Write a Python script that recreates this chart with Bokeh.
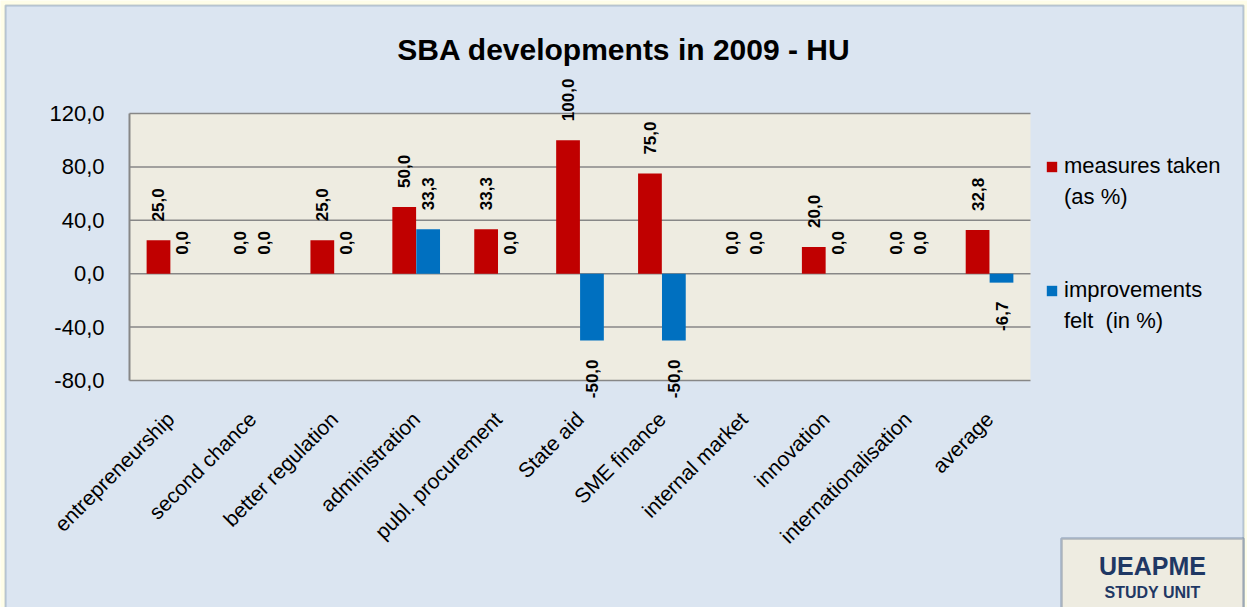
import math
from bokeh.plotting import figure
from bokeh.models import (ColumnDataSource, Range1d, FixedTicker,
                          CustomJSTickFormatter, Legend, LegendItem, Label,
                          LabelSet, BoxAnnotation)
from bokeh.transform import dodge
from bokeh.core.properties import value
from bokeh.embed import file_html
from bokeh.resources import INLINE

# ---------------- data ----------------
categories = ["entrepreneurship", "second chance", "better regulation", "administration",
              "publ. procurement", "State aid", "SME finance", "internal market",
              "innovation", "internationalisation", "average"]
measures_taken = [25.0, 0.0, 25.0, 50.0, 33.3, 100.0, 75.0, 0.0, 20.0, 0.0, 32.8]
improvements_felt = [0.0, 0.0, 0.0, 33.3, 0.0, -50.0, -50.0, 0.0, 0.0, 0.0, -6.7]
y_ticks = [-80, -40, 0, 40, 80, 120]
title_text = "SBA developments in 2009 - HU"
legend_lines = ["measures taken", "(as %)", "improvements", "felt  (in %)"]
badge_lines = ["UEAPME", "STUDY UNIT"]

FONT = "Liberation Sans"
RED = "#C00000"
BLUE = "#0070C0"
NAVY = "#1F3864"
GRID = "#878787"

# ---------------- layout (pixels of the canvas) ----------------
W, H = 1247, 607
PL, PR, PT, PB = 129, 1030, 113, 380     # plot-area box on the canvas
n = len(categories)
ux = (PR - PL) / n
uy = (PB - PT) / (y_ticks[-1] - y_ticks[0])
x_lo = -0.5 - PL / ux
x_hi = n - 0.5 + (W - PR) / ux
y_hi = y_ticks[-1] + PT / uy
y_lo = y_ticks[0] - (H - PB) / uy


def X(px):
    return x_lo + px / ux


def Y(py):
    return y_hi - py / uy


def fmt(v):
    return f"{v:.1f}".replace(".", ",")


p = figure(width=W, height=H, x_range=Range1d(x_lo, x_hi), y_range=Range1d(y_lo, y_hi),
           output_backend="svg", toolbar_location=None, title=None, min_border=0)
p.background_fill_color = "#FEFDE8"
p.border_fill_color = "#FEFDE8"
p.outline_line_color = None
p.grid.visible = False

# chart area and plot area
p.add_layout(BoxAnnotation(left=X(5), right=X(1243), top=Y(5), bottom=Y(640),
                           fill_color="#DBE5F1", fill_alpha=1, line_color="#3B5E8C",
                           line_width=2, level="underlay"))
p.add_layout(BoxAnnotation(left=-0.5, right=n - 0.5, bottom=y_ticks[0], top=y_ticks[-1],
                           fill_color="#EEECE1", fill_alpha=1, line_color=None,
                           level="underlay"))
p.segment(x0=-0.5, x1=n - 0.5, y0=y_ticks, y1=y_ticks, line_color=GRID, line_width=1.5)

# axes
p.yaxis.fixed_location = -0.5
p.yaxis.bounds = (y_ticks[0], y_ticks[-1])
p.yaxis.ticker = FixedTicker(ticks=y_ticks)
p.yaxis.formatter = CustomJSTickFormatter(code="return tick.toFixed(1).replace('.', ',');")
p.yaxis.major_label_text_font = FONT
p.yaxis.major_label_text_font_size = "22px"
p.yaxis.major_label_text_color = "black"
p.yaxis.major_tick_line_color = None
p.yaxis.minor_tick_line_color = None
p.yaxis.major_tick_out = 0
p.yaxis.major_tick_in = 0
p.yaxis.major_label_standoff = 25
p.yaxis.axis_line_color = GRID
p.yaxis.axis_line_width = 2

p.xaxis.fixed_location = y_ticks[0]
p.xaxis.ticker = FixedTicker(ticks=list(range(n)))
p.xaxis.major_label_overrides = {i: c for i, c in enumerate(categories)}
p.xaxis.major_label_orientation = math.pi / 4
p.xaxis.major_label_text_font = FONT
p.xaxis.major_label_text_font_size = "21px"
p.xaxis.major_label_text_color = "black"
p.xaxis.major_tick_line_color = None
p.xaxis.minor_tick_line_color = None
p.xaxis.major_tick_out = 0
p.xaxis.major_tick_in = 0
p.xaxis.axis_line_color = None
p.xaxis.major_label_standoff = 35

# bars
src = ColumnDataSource(dict(idx=list(range(n)), m=measures_taken, i=improvements_felt))
r_m = p.vbar(x=dodge("idx", -0.146), top="m", bottom=0, width=0.29,
             fill_color=RED, line_color=None, source=src)
r_i = p.vbar(x=dodge("idx", 0.146), top="i", bottom=0, width=0.29,
             fill_color=BLUE, line_color=None, source=src)
r_blank = p.vbar(x=[], top=[], width=0.1, fill_alpha=0, line_alpha=0)

# data labels
lab_m = ColumnDataSource(dict(idx=list(range(n)), y=measures_taken,
                              t=[fmt(v) for v in measures_taken]))
pos_i = [(k, v) for k, v in enumerate(improvements_felt) if v >= 0]
neg_i = [(k, v) for k, v in enumerate(improvements_felt) if v < 0]
lab_ip = ColumnDataSource(dict(idx=[k for k, _ in pos_i], y=[v for _, v in pos_i],
                               t=[fmt(v) for _, v in pos_i]))
lab_in = ColumnDataSource(dict(idx=[k for k, _ in neg_i], y=[v for _, v in neg_i],
                               t=[fmt(v) for _, v in neg_i]))

common = dict(y="y", text="t", angle=math.pi / 2, text_baseline="middle",
              text_font=value(FONT), text_font_size=value("17px"),
              text_font_style=value("bold"), text_color=value("black"))
p.add_layout(LabelSet(x=dodge("idx", -0.146), source=lab_m,
                      text_align="left", y_offset=19, **common))
p.add_layout(LabelSet(x=dodge("idx", 0.146), source=lab_ip,
                      text_align="left", y_offset=19, **common))
p.add_layout(LabelSet(x=dodge("idx", 0.146), source=lab_in,
                      text_align="right", y_offset=-19, **common))

# title
p.add_layout(Label(x=X(623.5), y=Y(48.5), text=title_text, text_align="center",
                   text_baseline="middle", text_font=FONT, text_font_size="30px",
                   text_font_style="bold", text_color="black"))

# legend
ROW = 31
items = [
    LegendItem(label=legend_lines[0], renderers=[r_m]),
    LegendItem(label=legend_lines[1], renderers=[r_blank]),
    LegendItem(label=" ", renderers=[r_blank]),
    LegendItem(label="  ", renderers=[r_blank]),
    LegendItem(label=legend_lines[2], renderers=[r_i]),
    LegendItem(label=legend_lines[3], renderers=[r_blank]),
]
leg_top = 166 - ROW / 2
legend = Legend(items=items, location=(1045, H - leg_top - ROW * len(items)),
                glyph_width=13, glyph_height=13, label_standoff=6,
                spacing=0, padding=0, margin=0, label_height=ROW,
                label_text_font=FONT, label_text_font_size="22px",
                label_text_color="black", label_text_baseline="middle",
                border_line_alpha=0, background_fill_alpha=0)
p.add_layout(legend)

# UEAPME study unit badge
p.add_layout(BoxAnnotation(left=X(1061), right=X(1243), top=Y(538), bottom=Y(640),
                           fill_color="#EEECE1", fill_alpha=1,
                           line_color=NAVY, line_width=2.5))
p.add_layout(Label(x=X(1152), y=Y(565), text=badge_lines[0],
                   text_align="center", text_baseline="middle",
                   text_font=FONT, text_font_size="25px",
                   text_font_style="bold", text_color=NAVY))
p.add_layout(Label(x=X(1152), y=Y(592), text=badge_lines[1],
                   text_align="center", text_baseline="middle",
                   text_font=FONT, text_font_size="16px",
                   text_font_style="bold", text_color=NAVY))

open("out.html", "w").write(file_html(p, INLINE))
